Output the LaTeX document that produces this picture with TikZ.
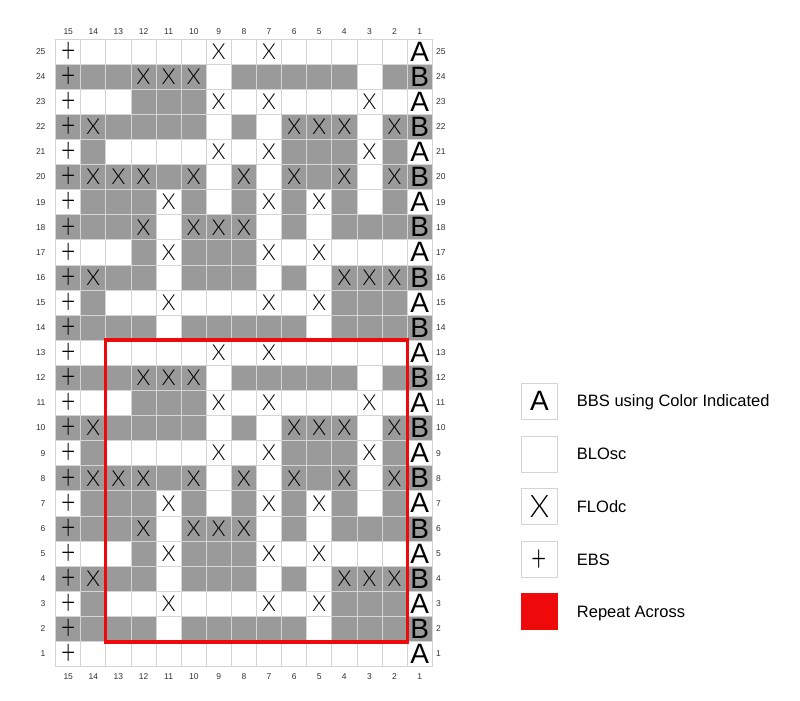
\documentclass[tikz,border=0pt]{standalone}
\usepackage{fontspec}
\setmainfont{Liberation Sans}
\newfontfamily\thinfont{Lato Light}
\usepackage{graphicx}
\usepackage{tikz}
\definecolor{chartgray}{HTML}{9A9A9A}
\definecolor{gridgray}{HTML}{D4D4D4}
\definecolor{repeatred}{HTML}{EE0A0A}
\newcommand{\plusmark}[1]{\raisebox{-#1}{\scalebox{0.85}[1.2]{+}}}
\tikzset{
  cell/.style={shape=rectangle, draw=gridgray, line width=0.8pt, minimum size=25.1pt, inner sep=0pt, font=\thinfont\fontsize{22}{22}\selectfont},
  cell0/.style={cell}, cell1/.style={cell},
  cell2/.style={cell, fill=chartgray}, cell3/.style={cell, fill=chartgray},
  cell4/.style={cell, text height=0pt, text depth=0pt, font=\thinfont\fontsize{29}{29}\selectfont}, cell5/.style={cell4, fill=chartgray},
  cell6/.style={cell, font=\rmfamily\fontsize{28}{28}\selectfont}, cell7/.style={cell6, fill=chartgray},
  numlabel/.style={font=\fontsize{8.5}{8.5}\selectfont, text=black!80, inner sep=0pt},
  keybox/.style={shape=rectangle, draw=gridgray, line width=0.6pt, minimum size=36pt, inner sep=0pt},
  keytext/.style={anchor=base west, inner sep=0pt, yshift=-6pt, font=\fontsize{16.5}{16.5}\selectfont}
}

\begin{document}
\begin{tikzpicture}[x=25.1pt, y=25.1pt]
	\useasboundingbox (-1.719,-0.874) rectangle (30.153,27.054);
	% Chart cells (0 blank, 1 X, 2 gray, 3 gray X, 4/5 plus, 6 A, 7 B):
	\foreach \r/\pat in {
		25/{4,0,0,0,0,0,1,0,1,0,0,0,0,0,6},
		24/{5,2,2,3,3,3,0,2,2,2,2,2,0,2,7},
		23/{4,0,0,2,2,2,1,0,1,0,0,0,1,0,6},
		22/{5,3,2,2,2,2,0,2,0,3,3,3,0,3,7},
		21/{4,2,0,0,0,0,1,0,1,2,2,2,1,2,6},
		20/{5,3,3,3,2,3,0,3,0,3,2,3,0,3,7},
		19/{4,2,2,2,1,2,0,2,1,2,1,2,0,2,6},
		18/{5,2,2,3,0,3,3,3,0,2,0,2,2,2,7},
		17/{4,0,0,2,1,2,2,2,1,0,1,0,0,0,6},
		16/{5,3,2,2,0,2,2,2,0,2,0,3,3,3,7},
		15/{4,2,0,0,1,0,0,0,1,0,1,2,2,2,6},
		14/{5,2,2,2,0,2,2,2,2,2,0,2,2,2,7},
		13/{4,0,0,0,0,0,1,0,1,0,0,0,0,0,6},
		12/{5,2,2,3,3,3,0,2,2,2,2,2,0,2,7},
		11/{4,0,0,2,2,2,1,0,1,0,0,0,1,0,6},
		10/{5,3,2,2,2,2,0,2,0,3,3,3,0,3,7},
		9/{4,2,0,0,0,0,1,0,1,2,2,2,1,2,6},
		8/{5,3,3,3,2,3,0,3,0,3,2,3,0,3,7},
		7/{4,2,2,2,1,2,0,2,1,2,1,2,0,2,6},
		6/{5,2,2,3,0,3,3,3,0,2,0,2,2,2,7},
		5/{4,0,0,2,1,2,2,2,1,0,1,0,0,0,6},
		4/{5,3,2,2,0,2,2,2,0,2,0,3,3,3,7},
		3/{4,2,0,0,1,0,0,0,1,0,1,2,2,2,6},
		2/{5,2,2,2,0,2,2,2,2,2,0,2,2,2,7},
		1/{4,0,0,0,0,0,0,0,0,0,0,0,0,0,6}}{
		\foreach \k [count=\i] in \pat{
			\node[cell\k] (c\r-\i) at (\i,\r) {\ifcase\k\relax\or X\or\or X\or\plusmark{10.8pt}\or\plusmark{10.8pt}\or A\or B\fi};
		}
	}
	% Repeat frame:
	\draw[repeatred, line width=3.5pt] (c13-3.north west) rectangle (c2-14.south east);
	% Stitch and row numbers:
	\foreach \i in {1,...,15}{
		\pgfmathtruncatemacro{\n}{16-\i}
		\node[numlabel] (top\i) at (\i,25.79) {\n};
		\node[numlabel] (bot\i) at (\i,0.09) {\n};
	}
	\foreach \r in {1,...,25}{
		\node[numlabel, anchor=east] (lft\r) at (0.1,\r) {\r};
		\node[numlabel, anchor=west] (rgt\r) at (15.65,\r) {\r};
	}
	% Key:
	\node[keybox, font=\fontsize{28}{28}\selectfont] (keyA) at (19.775,11.078) {A};
	\node[keytext] (keyAtext) at (21.257,11.078) {BBS using Color Indicated};
	\node[keybox] (keyBlank) at (19.775,8.970) {};
	\node[keytext] (keyBlanktext) at (21.257,8.970) {BLOsc};
	\node[keybox, font=\thinfont\fontsize{31}{31}\selectfont] (keyX) at (19.775,6.874) {X};
	\node[keytext] (keyXtext) at (21.257,6.874) {FLOdc};
	\node[keybox, text height=0pt, text depth=0pt, font=\thinfont\fontsize{31}{31}\selectfont] (keyPlus) at (19.775,4.767) {\plusmark{11.6pt}};
	\node[keytext] (keyPlustext) at (21.257,4.767) {EBS};
	\node[keybox, fill=repeatred, draw=repeatred] (keyRed) at (19.775,2.691) {};
	\node[keytext] (keyRedtext) at (21.257,2.691) {Repeat Across};
\end{tikzpicture}
\end{document}
